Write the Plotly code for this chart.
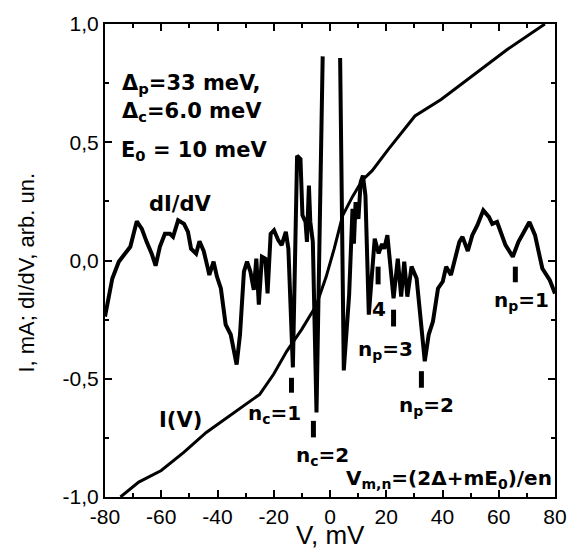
import plotly.graph_objects as go

# ---- data ----
didv_v = [-80, -77.4, -75.1, -73.3, -71.0, -68.7, -66.9, -65.2, -63.4, -62.0, -60.5, -58.7, -56.9, -55.8,
          -54.0, -51.9, -50.5, -49.4, -47.6, -46.4, -44.9, -43.5, -42.9, -41.4, -40.2, -38.8, -37.1, -35.3,
          -33.2, -32.0, -30.6, -29.5, -28.3, -27.1, -26.2, -25.3, -24.2, -23.0, -22.2, -21.1, -19.9, -18.4,
          -17.2, -15.7, -14.8, -13.2, -11.7, -10.5, -9.8, -8.7, -8.2, -7.5, -7.0, -6.1, -4.8, -2.6,
          None,
          3.6, 4.9, 6.8, 8.0, 8.5, 9.1, 10.1, 10.9, 11.7, 12.6, 13.8, 15.0, 15.9, 17.3, 18.5, 19.3, 20.4,
          22.6, 24.1, 25.3, 26.4, 27.5, 29.0, 30.8, 31.9, 33.7, 35.1, 36.6, 38.4, 40.1, 41.3, 43.0, 46.0,
          47.1, 49.0, 50.6, 52.4, 54.5, 56.5, 57.7, 59.4, 62.4, 65.0, 67.0, 70.9, 72.9, 75.5, 78.1, 80.0]
didv_y = [-0.237, -0.076, -0.005, 0.023, 0.058, 0.166, 0.134, 0.079, 0.029, -0.022, 0.058, 0.113, 0.113, 0.10,
          0.17, 0.155, 0.121, 0.05, 0.029, 0.081, 0.04, -0.03, -0.061, -0.005, -0.068, -0.118, -0.271, -0.313,
          -0.44, -0.313, -0.047, -0.005, -0.047, -0.124, 0.008, -0.187, 0.016, 0.008, -0.139, 0.113, 0.128, 0.086,
          0.065, 0.121, 0.05, -0.452, 0.443, 0.429, 0.191, 0.163, 0.079, 0.317, 0.163, 0.079, -0.643, 0.863,
          None,
          0.856, -0.465, -0.145, 0.218, 0.071, 0.247, 0.176, 0.331, 0.359, 0.275, -0.229, -0.019, 0.092, 0.03, 0.07, 0.05, 0.107,
          -0.16, 0.008, -0.153, -0.005, -0.153, -0.026, -0.076, -0.202, -0.426, -0.313, -0.258, -0.118, -0.089, -0.026, -0.061, 0.079,
          0.10, 0.04, 0.107, 0.149, 0.212, 0.184, 0.155, 0.163, 0.065, 0.016, 0.079, 0.163, 0.107, -0.034, -0.082, -0.14]

iv_v = [-74.5, -68, -60, -52, -44, -33, -25, -20, -15.4, -10, -4.9, -1.4, 1.5, 4.5, 8.0, 11.5, 15.0,
        20.8, 26.7, 30.2, 39.5, 51.2, 62.9, 76.4]
iv_i = [-1.0, -0.937, -0.888, -0.811, -0.727, -0.636, -0.566, -0.48, -0.384, -0.29, -0.19, -0.07, 0.05, 0.19,
        0.27, 0.34, 0.38, 0.471, 0.562, 0.611, 0.681, 0.786, 0.891, 1.0]

# resonance markers (short vertical bars)
bar_v = [-13.7, -5.9, 17.1, 22.6, 32.5, 65.9]
bar_top = [-0.496, -0.678, -0.026, -0.208, -0.468, -0.026]
bar_bottom = [-0.559, -0.748, -0.101, -0.279, -0.538, -0.092]

x_tickvals = [-80, -60, -40, -20, 0, 20, 40, 60, 80]
x_ticktext = ["-80", "-60", "-40", "-20", "0", "20", "40", "60", "80"]
y_tickvals = [-1.0, -0.5, 0.0, 0.5, 1.0]
y_ticktext = ["-1,0", "-0,5", "0,0", "0,5", "1,0"]

# ---- figure ----
fig = go.Figure()
fig.add_trace(go.Scatter(x=didv_v, y=didv_y, mode="lines", connectgaps=False,
                         line=dict(color="black", width=4), hoverinfo="skip"))
fig.add_trace(go.Scatter(x=iv_v, y=iv_i, mode="lines",
                         line=dict(color="black", width=3), hoverinfo="skip"))

bx, by = [], []
for v, t, b in zip(bar_v, bar_top, bar_bottom):
    bx += [v, v, None]
    by += [t, b, None]
fig.add_trace(go.Scatter(x=bx, y=by, mode="lines", line=dict(color="black", width=5), hoverinfo="skip"))

bold = dict(family="DejaVu Sans", size=20, color="black")
big = dict(family="DejaVu Sans", size=21, color="black")
anns = [
    ("<b>Δ<sub>p</sub>=33 meV,</b>", -74.5, 0.745, "left", big),
    ("<b>Δ<sub>c</sub>=6.0 meV</b>", -74.5, 0.628, "left", big),
    ("<b>E<sub>0</sub> = 10 meV</b>", -75.0, 0.465, "left", big),
    ("<b>dI/dV</b>", -53.0, 0.238, "center", big),
    ("<b>I(V)</b>", -53.2, -0.674, "center", big),
    ("<b>n<sub>c</sub>=1</b>", -19.8, -0.65, "center", bold),
    ("<b>n<sub>c</sub>=2</b>", -2.8, -0.826, "center", bold),
    ("<b>4</b>", 17.4, -0.205, "center", bold),
    ("<b>n<sub>p</sub>=3</b>", 19.6, -0.377, "center", bold),
    ("<b>n<sub>p</sub>=2</b>", 34.2, -0.617, "center", bold),
    ("<b>n<sub>p</sub>=1</b>", 68.2, -0.173, "center", bold),
    ("<b>V<sub>m,n</sub>=(2Δ+mE<sub>0</sub>)/en</b>", 79.8, -0.925, "right", bold),
]
for text, x, y, xa, f in anns:
    fig.add_annotation(text=text, x=x, y=y, xref="x", yref="y", xanchor=xa, yanchor="middle",
                       showarrow=False, font=f)

fig.add_annotation(text="I, mA; dI/dV, arb. un.", xref="paper", yref="paper", x=-0.175, y=0.475,
                   textangle=-90, showarrow=False, xanchor="center", yanchor="middle",
                   font=dict(family="Liberation Sans", size=22, color="black"))
fig.add_annotation(text="V, mV", xref="paper", yref="paper", x=0.5, y=-0.1155,
                   showarrow=False, xanchor="center", yanchor="bottom",
                   font=dict(family="Liberation Sans", size=26, color="black"))

axis_common = dict(showline=True, linecolor="black", linewidth=2, mirror="allticks", ticks="inside",
                   ticklen=7, tickwidth=1.5, tickcolor="black", showgrid=False, zeroline=False)
fig.update_xaxes(range=[-80, 80], tickvals=x_tickvals, ticktext=x_ticktext,
                 tickfont=dict(family="Liberation Sans", size=21, color="black"),
                 minor=dict(ticks="inside", dtick=10, tick0=0, ticklen=4, tickwidth=1.5, tickcolor="black",
                            showgrid=False),
                 **axis_common)
fig.update_yaxes(range=[-1, 1], tickvals=y_tickvals, ticktext=y_ticktext,
                 tickfont=dict(family="Liberation Sans", size=21, color="black"),
                 minor=dict(ticks="inside", dtick=0.25, tick0=0, ticklen=4, tickwidth=1.5, tickcolor="black",
                            showgrid=False),
                 **axis_common)

fig.update_layout(width=579, height=554, margin=dict(l=105, r=16, t=21, b=57),
                  plot_bgcolor="white", paper_bgcolor="white", showlegend=False)

# remove the browser's default 8px body margin so the figure fills the window exactly
fig.write_html("out.html", config={"displayModeBar": False},
               post_script="document.body.style.margin='0';document.body.style.overflow='hidden';")
